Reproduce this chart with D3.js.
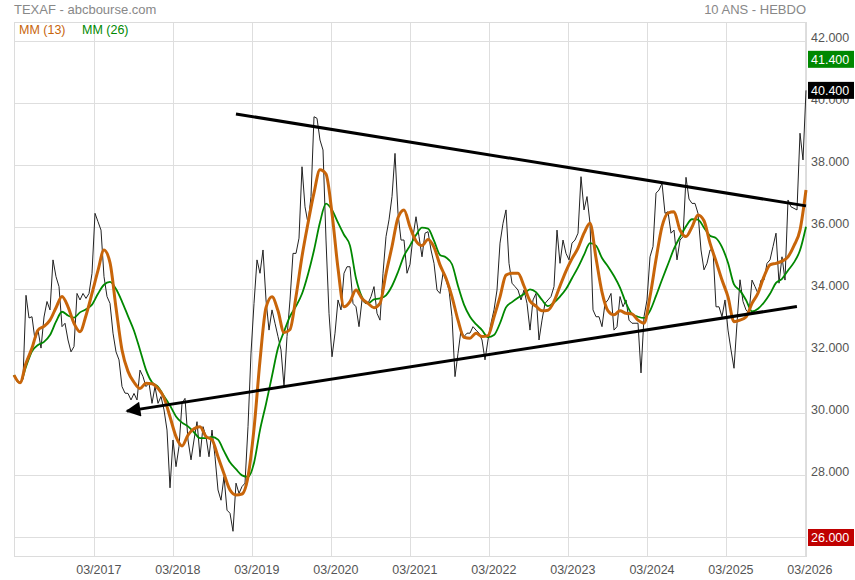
<!DOCTYPE html>
<html lang="fr">
<head>
<meta charset="UTF-8">
<title>TEXAF</title>
<script src="https://d3js.org/d3.v7.min.js"></script>
<style>
  body { margin: 0; background: #fff; }
  text { font-family: "Liberation Sans", Arial, sans-serif; }
</style>
</head>
<body>
<script>
// weekly chart, 10 years, one value every ~2 weeks
var startDate = new Date(Date.UTC(2016, 1, 26)),
    endDate = new Date(Date.UTC(2026, 2, 6));

var price = [
  31.23, 31.02, 30.98, 31.1, 33.8, 33.07, 33.11, 32.36, 32.68, 32.1,
  33.1, 33.6, 33.33, 34.94, 34.4, 34.08, 32.79, 32.9, 32.36, 31.98,
  32.15, 33.86, 33.65, 33.86, 33.7, 33.86, 34.51, 36.44, 36.17, 35.9,
  34.4, 33.76, 33.54, 32.58, 31.98, 31.72, 30.86, 30.65, 30.64, 30.43,
  30.64, 30.43, 31.39, 31.18, 30.86, 30.97, 30.32, 30.86, 30.32, 30.54,
  30.11, 29.46, 27.6, 29.14, 28.28, 28.93, 30.32, 30.48, 29.14, 28.5,
  29.14, 29.73, 28.6, 29.57, 29.25, 28.6, 29.46, 28.6, 27.53, 27.2,
  27.96, 26.88, 26.78, 26.2, 27.75, 27.42, 27.64, 27.75, 29.57, 31.94,
  33.54, 34.94, 34.51, 35.26, 33.65, 32.68, 33.33, 32.9, 32.47, 32.04,
  30.86, 32.47, 33.65, 35.15, 35.15, 35.64, 37.94, 36.65, 36.12, 36.98,
  39.55, 39.5, 38.8, 38.48, 35.58, 33.22, 31.82, 32.58, 33.65, 33.33,
  34.51, 34.72, 34.72, 33.54, 33.43, 32.79, 33.65, 33.54, 33.54, 33.76,
  34.08, 33.22, 33.0, 34.51, 35.69, 36.23, 36.98, 38.37, 36.44, 35.58,
  35.58, 34.51, 34.8, 35.69, 36.33, 35.69, 35.04, 35.8, 35.85, 35.26,
  34.83, 33.97, 33.86, 34.51, 34.29, 33.97, 33.11, 31.18, 31.93, 32.68,
  32.47, 32.58, 32.58, 32.79, 32.68, 32.58, 32.36, 31.72, 32.36, 32.9,
  33.33, 33.97, 35.48, 36.12, 36.55, 34.83, 34.19, 34.08, 33.97, 33.65,
  33.97, 33.54, 32.68, 33.65, 33.86, 32.36, 33.0, 33.54, 33.65, 33.76,
  34.08, 35.9, 34.83, 35.58, 35.15, 34.94, 35.48, 35.58, 35.8, 37.62,
  36.55, 36.98, 36.12, 33.33, 33.11, 33.11, 32.79, 33.54, 33.65, 33.86,
  32.68, 32.79, 33.76, 33.43, 33.65, 33.0, 32.9, 32.9, 32.9, 31.3,
  33.11, 33.65, 35.04, 35.37, 37.09, 37.19, 37.41, 36.44, 36.49, 35.8,
  35.9, 34.94, 35.58, 35.69, 37.6, 36.9, 36.76, 36.76, 36.44, 35.26,
  34.62, 34.83, 35.26, 35.26, 33.43, 33.43, 33.11, 33.65, 32.68, 32.04,
  31.45, 32.9, 34.3, 33.6, 33.33, 33.22, 34.29, 34.08, 33.86, 34.29,
  34.29, 34.83, 34.94, 35.37, 35.8, 34.19, 35.04, 34.29, 36.87, 36.65,
  36.6, 36.55, 39.02, 38.16, 40.4
];

// moving averages, read every second price point
var mm13 = [
  31.23, 30.98, 31.61, 32.1, 32.68, 32.8, 33.0, 33.4, 33.76, 33.43,
  32.9, 32.63, 33.15, 33.86, 34.6, 35.26, 34.85, 33.4, 32.04, 31.35,
  31.0, 30.8, 30.97, 30.95, 30.8, 30.5, 29.89, 29.25, 28.95, 29.3,
  29.5, 29.57, 29.25, 29.15, 28.6, 28.05, 27.53, 27.37, 27.4, 27.96,
  29.5, 31.7, 33.4, 33.75, 33.3, 32.6, 32.7, 33.76, 35.05, 36.12,
  37.1, 37.84, 37.7, 36.44, 34.67, 33.43, 33.6, 33.97, 33.7, 33.54,
  33.4, 33.54, 34.5, 35.37, 36.3, 36.55, 36.0, 35.55, 35.4, 35.6,
  35.35, 34.78, 34.35, 33.75, 33.0, 32.45, 32.42, 32.58, 32.47, 32.5,
  33.1, 33.75, 34.45, 34.51, 34.51, 34.1, 33.62, 33.45, 33.3, 33.32,
  33.6, 34.1, 34.58, 34.98, 35.32, 35.8, 36.12, 35.0, 33.9, 33.3,
  33.17, 33.3, 33.22, 33.2, 33.0, 32.9, 33.76, 34.95, 36.01, 36.45,
  36.49, 35.9, 35.69, 36.0, 36.39, 36.2, 35.48, 34.9, 34.29, 33.75,
  32.95, 33.0, 33.1, 33.54, 33.87, 34.4, 34.78, 34.83, 34.9, 35.04,
  35.4, 35.9, 37.19
];

var mm26 = [
  31.23, 30.98, 31.5, 32.0, 32.2, 32.3, 32.52, 32.95, 33.27, 33.15,
  33.08, 33.25, 33.35, 33.5, 33.85, 34.14, 34.23, 34.0, 33.6, 33.13,
  32.66, 32.04, 31.4, 31.0, 30.85, 30.55, 30.25, 29.9, 29.7, 29.58,
  29.39, 29.2, 29.2, 29.24, 29.15, 28.78, 28.42, 28.2, 28.0, 27.95,
  28.4, 29.46, 30.3, 31.2, 32.1, 32.63, 33.12, 33.45, 33.85, 34.48,
  35.25, 36.15, 36.75, 36.55, 36.14, 35.75, 35.4, 34.35, 33.74, 33.54,
  33.67, 33.7, 33.8, 34.1, 34.55, 35.07, 35.4, 35.74, 35.98, 35.95,
  35.56, 35.1, 35.02, 34.8, 34.1, 33.5, 33.11, 32.87, 32.68, 32.45,
  32.52, 32.9, 33.41, 33.58, 33.72, 33.84, 33.99, 33.9, 33.65, 33.45,
  33.57, 33.76, 34.0, 34.35, 34.7, 35.1, 35.48, 35.4, 35.0, 34.73,
  34.42, 34.05, 33.55, 33.2, 33.11, 33.07, 33.3, 33.78, 34.3, 34.8,
  35.3, 35.68, 36.02, 36.25, 36.24, 35.98, 35.72, 35.64, 35.35, 34.85,
  34.15, 33.95, 33.65, 33.28, 33.37, 33.57, 33.85, 34.2, 34.33, 34.6,
  34.86, 35.25, 36.01
];

// hand-drawn trend lines
var trendUpper = [["2018-12-18", 39.64], ["2026-03-06", 36.68]];
var trendLower = [["2026-01-23", 33.44], ["2017-08-01", 30.07]];

var yTicks = [26, 28, 30, 32, 34, 36, 38, 40, 42];
var xTickYears = [2017, 2018, 2019, 2020, 2021, 2022, 2023, 2024, 2025, 2026];

var badges = [
  {value: 41.4, color: "#008800"},
  {value: 40.4, color: "#000000"},
  {value: 26.0, color: "#c00000"}
];

var width = 855, height = 580;
var plotLeft = 14, plotRight = 806, plotTop = 22, plotBottom = 556;

var svg = d3.select("body").append("svg")
  .attr("width", width)
  .attr("height", height);

svg.append("rect").attr("width", width).attr("height", height).attr("fill", "#fff");

var x = d3.scaleUtc().domain([startDate, endDate]).range([plotLeft, plotRight]);
var y = d3.scaleLinear().domain([25.404, 42.602]).range([plotBottom, plotTop]);

var step = (endDate - startDate) / (price.length - 1);
var dates = price.map(function(d, i) { return new Date(+startDate + i * step); });
var priceData = price.map(function(v, i) { return {date: dates[i], value: v}; });
var mm13Data = mm13.map(function(v, k) { return {date: dates[k * 2], value: v}; });
var mm26Data = mm26.map(function(v, k) { return {date: dates[k * 2], value: v}; });

var xTicks = xTickYears.map(function(yr) { return new Date(Date.UTC(yr, 2, 1)); });

// grid
var grid = svg.append("g");
grid.selectAll(".hg").data(yTicks).enter().append("line")
  .attr("x1", plotLeft).attr("x2", plotRight)
  .attr("y1", function(d) { return Math.round(y(d)) + 0.5; })
  .attr("y2", function(d) { return Math.round(y(d)) + 0.5; })
  .attr("stroke", "#dedede").attr("stroke-width", 1);
grid.selectAll(".vg").data(xTicks).enter().append("line")
  .attr("y1", plotTop).attr("y2", plotBottom)
  .attr("x1", function(d) { return Math.round(x(d)) + 0.5; })
  .attr("x2", function(d) { return Math.round(x(d)) + 0.5; })
  .attr("stroke", "#dedede").attr("stroke-width", 1);
grid.append("rect")
  .attr("x", plotLeft + 0.5).attr("y", plotTop + 0.5)
  .attr("width", plotRight - plotLeft).attr("height", plotBottom - plotTop)
  .attr("fill", "none").attr("stroke", "#dcdcdc");

var line = d3.line()
  .x(function(d) { return x(d.date); })
  .y(function(d) { return y(d.value); });

var smooth = d3.line()
  .x(function(d) { return x(d.date); })
  .y(function(d) { return y(d.value); })
  .curve(d3.curveMonotoneX);

svg.append("path").datum(priceData)
  .attr("d", line)
  .attr("fill", "none").attr("stroke", "#222").attr("stroke-width", 1);

svg.append("path").datum(mm26Data)
  .attr("d", smooth)
  .attr("fill", "none").attr("stroke", "#008800").attr("stroke-width", 1.8);

svg.append("path").datum(mm13Data)
  .attr("d", smooth)
  .attr("fill", "none").attr("stroke", "#c8650a").attr("stroke-width", 3);

// trend lines
svg.append("defs").append("marker")
  .attr("id", "arrow")
  .attr("viewBox", "0 0 10 10")
  .attr("refX", 9).attr("refY", 5)
  .attr("markerWidth", 6).attr("markerHeight", 5)
  .attr("markerUnits", "strokeWidth")
  .attr("orient", "auto")
  .append("path").attr("d", "M0,0 L10,5 L0,10 Z").attr("fill", "#000");

var parse = d3.utcParse("%Y-%m-%d");
var trend = d3.line()
  .x(function(d) { return x(parse(d[0])); })
  .y(function(d) { return y(d[1]); });

svg.append("path").datum(trendUpper)
  .attr("d", trend)
  .attr("fill", "none").attr("stroke", "#000").attr("stroke-width", 3);
svg.append("path").datum(trendLower)
  .attr("d", trend)
  .attr("fill", "none").attr("stroke", "#000").attr("stroke-width", 3)
  .attr("marker-end", "url(#arrow)");

// right axis
var fmt = d3.format(".3f");
svg.selectAll(".ylab").data(yTicks).enter().append("text")
  .attr("x", 811)
  .attr("y", function(d) { return y(d) + 1; })
  .attr("font-size", "12.5px")
  .attr("fill", "#555")
  .text(function(d) { return fmt(d); });

// bottom axis
var xfmt = d3.utcFormat("%m/%Y");
svg.selectAll(".xlab").data(xTicks).enter().append("text")
  .attr("x", function(d) { return x(d) + 5; })
  .attr("y", 574)
  .attr("text-anchor", "middle")
  .attr("font-size", "12.5px")
  .attr("fill", "#555")
  .text(function(d) { return xfmt(d); });

// value badges
var b = svg.selectAll(".badge").data(badges).enter().append("g");
b.append("rect")
  .attr("x", 808).attr("width", 46)
  .attr("y", function(d) { return y(d.value) - 8.5; })
  .attr("height", 17)
  .attr("fill", function(d) { return d.color; });
b.append("text")
  .attr("x", 811)
  .attr("y", function(d) { return y(d.value) + 4.5; })
  .attr("font-size", "12.5px")
  .attr("fill", "#fff")
  .text(function(d) { return fmt(d.value); });

// titles and legend
svg.append("text").attr("x", 14).attr("y", 13.5)
  .attr("font-size", "13px").attr("fill", "#888")
  .text("TEXAF - abcbourse.com");
svg.append("text").attr("x", 806).attr("y", 13.5)
  .attr("text-anchor", "end")
  .attr("font-size", "13px").attr("fill", "#888")
  .text("10 ANS - HEBDO");
svg.append("text").attr("x", 19).attr("y", 34)
  .attr("font-size", "12.5px").attr("fill", "#c8650a")
  .text("MM (13)");
svg.append("text").attr("x", 82).attr("y", 34)
  .attr("font-size", "12.5px").attr("fill", "#008800")
  .text("MM (26)");
</script>
</body>
</html>
